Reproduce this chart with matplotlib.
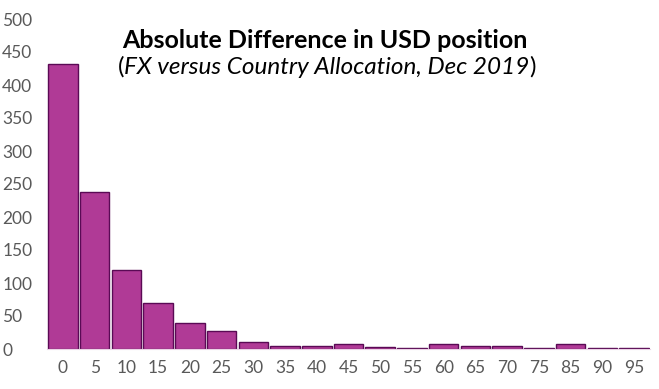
import matplotlib
matplotlib.use("Agg")
import matplotlib.pyplot as plt
import numpy as np

# histogram of absolute USD position difference
bins = ['0', '5', '10', '15', '20', '25', '30', '35', '40', '45',
        '50', '55', '60', '65', '70', '75', '85', '90', '95']
counts = [432, 238, 119, 69, 40, 28, 11, 5, 5, 8,
          3, 2, 8, 5, 5, 2, 8, 2, 1]

title = 'Absolute Difference in USD position'
subtitle = 'FX versus Country Allocation, Dec 2019'

plt.rcParams['font.family'] = ['Lato', 'DejaVu Sans']

fig = plt.figure(figsize=(6.59, 3.89), dpi=100)
ax = fig.add_axes([47/659, 1 - 349/389, 603/659, 330/389])

x = np.arange(len(bins))
ax.bar(x, counts, width=0.93, color='#B03A96', edgecolor='#5A0A55', linewidth=1.0)

ax.set_xlim(-0.5, len(bins) - 0.5)
ax.set_ylim(0, 500)
ax.set_xticks(x)
ax.set_xticklabels(bins)
ax.set_yticks(range(0, 501, 50))
ax.tick_params(length=0, labelsize=12.5, colors='#595959')
ax.tick_params(axis='x', pad=8)
for lab in ax.get_yticklabels():
    lab.set_horizontalalignment('left')
    lab.set_x(-40/603)
for s in ['top', 'right', 'left']:
    ax.spines[s].set_visible(False)
ax.spines['bottom'].set_color('#EBD3E6')

fig.text(325/659, 1 - 40/389, title, ha='center', va='center',
         fontsize=18, fontweight='bold', color='black')

# subtitle: italic text inside upright brackets
sub = fig.text(327/659, 1 - 67/389, subtitle, ha='center', va='center',
               fontsize=17.5, style='italic', color='black')
fig.canvas.draw()
bb = sub.get_window_extent().transformed(fig.transFigure.inverted())
fig.text(bb.x0, 1 - 67/389, '(', ha='right', va='center', fontsize=17.5, color='black')
fig.text(bb.x1, 1 - 67/389, ')', ha='left', va='center', fontsize=17.5, color='black')

fig.savefig('out.png', dpi=100)
